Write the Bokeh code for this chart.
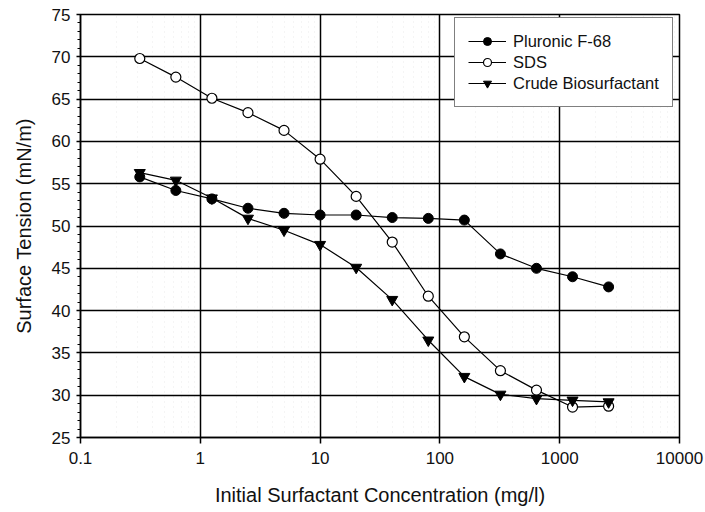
from bokeh.plotting import figure
from bokeh.models import (Legend, LegendItem, FixedTicker, Range1d)
from bokeh.embed import file_html
from bokeh.resources import INLINE

conc = [0.3125, 0.625, 1.25, 2.5, 5, 10, 20, 40, 80, 160, 320, 640, 1280, 2560]
pluronic = [55.8, 54.2, 53.2, 52.1, 51.5, 51.3, 51.3, 51.0, 50.9, 50.7, 46.7, 45.0, 44.0, 42.8]
sds = [69.8, 67.6, 65.1, 63.4, 61.3, 57.9, 53.5, 48.1, 41.7, 36.9, 32.9, 30.6, 28.6, 28.7]
crude = [56.3, 55.4, 53.3, 50.9, 49.5, 47.8, 45.1, 41.3, 36.5, 32.2, 30.1, 29.6, 29.4, 29.2]

x_ticks = [0.1, 1, 10, 100, 1000, 10000]
x_tick_labels = ["0.1", "1", "10", "100", "1000", "10000"]
y_ticks = [25, 30, 35, 40, 45, 50, 55, 60, 65, 70, 75]

FONT = "Liberation Sans"

p = figure(width=705, height=512, x_axis_type="log", output_backend="svg",
           toolbar_location=None, x_range=Range1d(0.1, 10000), y_range=Range1d(25, 75),
           min_border_left=80, min_border_right=26, min_border_top=14, min_border_bottom=75)
p.background_fill_color = "white"
p.border_fill_color = "white"
p.outline_line_color = "black"
p.outline_line_width = 1.5

p.xaxis.ticker = FixedTicker(ticks=x_ticks, minor_ticks=[m * 10**e for e in range(-1, 4) for m in range(2, 10)])
p.xaxis.major_label_overrides = {t: l for t, l in zip(x_ticks, x_tick_labels)}
p.yaxis.ticker = FixedTicker(ticks=y_ticks, minor_ticks=list(range(25, 76)))

for ax in (p.xaxis, p.yaxis):
    ax.axis_line_color = "black"
    ax.axis_line_width = 1.5
    ax.major_tick_line_color = "black"
    ax.major_tick_line_width = 1.5
    ax.major_label_text_font = FONT
    ax.major_label_text_font_size = "17px"
    ax.major_label_text_color = "#111111"
    ax.axis_label_text_font = FONT
    ax.axis_label_text_font_size = "20px"
    ax.axis_label_text_font_style = "normal"
    ax.axis_label_text_color = "#111111"

p.xaxis.major_tick_out = 6
p.xaxis.major_tick_in = 0
p.xaxis.minor_tick_line_color = None
p.xaxis.major_label_standoff = 8
p.xaxis.axis_label = "Initial Surfactant Concentration (mg/l)"
p.xaxis.axis_label_standoff = 17

p.yaxis.major_tick_out = 4
p.yaxis.major_tick_in = 0
p.yaxis.minor_tick_out = 3
p.yaxis.minor_tick_in = 0
p.yaxis.minor_tick_line_color = "black"
p.yaxis.major_label_standoff = 6
p.yaxis.axis_label = "Surface Tension (mN/m)"
p.yaxis.axis_label_standoff = 14

p.xgrid.grid_line_color = "black"
p.xgrid.grid_line_width = 1.5
p.ygrid.grid_line_color = "black"
p.ygrid.grid_line_width = 1.5
p.xgrid.minor_grid_line_color = "#cccccc"
p.xgrid.minor_grid_line_dash = "1 4"
p.xgrid.minor_grid_line_alpha = 0.4

l1 = p.line(conc, pluronic, line_color="black", line_width=1.2)
s1 = p.scatter(conc, pluronic, marker="circle", size=10, fill_color="black", line_color="black")
l2 = p.line(conc, sds, line_color="black", line_width=1.2)
s2 = p.scatter(conc, sds, marker="circle", size=10, fill_color="white", line_color="black", line_width=1.2)
l3 = p.line(conc, crude, line_color="black", line_width=1.2)
s3 = p.scatter(conc, crude, marker="inverted_triangle", size=11, fill_color="black", line_color="black")

legend = Legend(items=[
    LegendItem(label="Pluronic F-68", renderers=[l1, s1]),
    LegendItem(label="SDS", renderers=[l2, s2]),
    LegendItem(label="Crude Biosurfactant", renderers=[l3, s3]),
], location=(374, 330))
legend.border_line_color = "black"
legend.border_line_width = 1.2
legend.background_fill_color = "white"
legend.background_fill_alpha = 1
legend.label_text_font = FONT
legend.label_text_font_size = "16.5px"
legend.label_text_color = "#111111"
legend.glyph_width = 38
legend.glyph_height = 20
legend.label_height = 20
legend.spacing = 1
legend.padding = 13
legend.margin = 0
legend.label_standoff = 7
p.add_layout(legend, "center")

open("out.html", "w").write(file_html(p, INLINE))
